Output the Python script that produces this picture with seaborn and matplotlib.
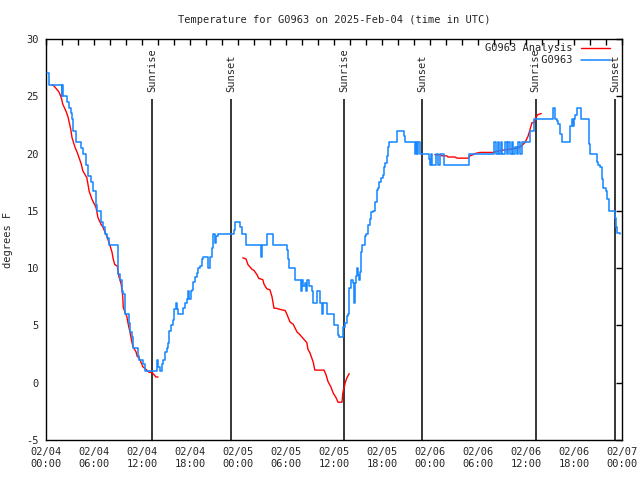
import numpy as np
import pandas as pd
import matplotlib
matplotlib.use("Agg")
import matplotlib.pyplot as plt
from matplotlib.lines import Line2D
import seaborn as sns

# ---------------- data ----------------
title = "Temperature for G0963 on 2025-Feb-04 (time in UTC)"
obs_name = "G0963"
ana_name = "G0963 Analysis"

# observations: hours since 02/04 00:00 UTC, temperature (F)
obs_hours = [0.1, 0.4, 1.9, 1.95, 2.05, 2.1, 2.4, 2.6, 2.9, 3.1, 3.2, 3.4, 3.75, 4.25, 4.4, 4.6,
             5.0, 5.25, 5.6, 5.9, 6.25, 6.4, 6.9, 7.1, 7.4, 7.6, 7.9, 8.9, 8.95, 9.25, 9.5, 9.6,
             9.9, 10.4, 10.5, 10.75, 10.9, 11.25, 11.5, 11.6, 12.1, 12.4, 13.85, 14.0, 14.25, 14.5,
             14.6, 14.9, 15.1, 15.25, 15.4, 15.6, 15.9, 16.0, 16.25, 16.4, 16.5, 17.0, 17.1, 17.4,
             17.6, 17.75, 17.9, 18.1, 18.25, 18.4, 18.6, 18.9, 19.0, 19.25, 19.5, 19.6, 20.1, 20.25,
             20.5, 20.75, 20.9, 21.1, 21.3, 21.5, 23.4, 23.5, 23.6, 24.0, 24.25, 24.5, 25.0, 26.6,
             26.9, 27.0, 27.6, 28.1, 28.4, 30.0, 30.1, 30.25, 30.4, 30.9, 31.1, 31.75, 31.9, 32.0,
             32.1, 32.4, 32.5, 32.6, 32.9, 33.25, 33.4, 33.85, 33.9, 34.1, 34.25, 34.5, 34.6, 35.0,
             35.1, 35.9, 35.95, 36.4, 36.5, 36.6, 37.0, 37.1, 37.4, 37.6, 37.75, 37.9, 38.1, 38.4,
             38.45, 38.5, 38.6, 38.75, 38.9, 39.0, 39.1, 39.25, 39.4, 39.5, 39.75, 39.9, 40.0, 40.1,
             40.25, 40.5, 40.6, 40.9, 41.1, 41.4, 41.5, 41.6, 41.9, 42.1, 42.25, 42.4, 42.6, 42.7,
             42.9, 43.75, 43.9, 44.6, 44.75, 44.9, 45.9, 46.1, 46.25, 46.4, 46.5, 46.75, 47.75, 47.9,
             48.0, 48.1, 48.25, 48.5, 48.75, 49.0, 49.25, 49.6, 49.75, 52.75, 52.9, 55.9, 56.0, 56.25,
             56.5, 56.6, 56.9, 57.0, 57.4, 57.6, 57.75, 58.0, 58.25, 58.4, 58.6, 58.9, 59.0, 59.25,
             59.5, 60.25, 60.5, 60.9, 61.0, 63.25, 63.4, 63.6, 63.9, 64.0, 64.25, 64.5, 65.4, 65.5,
             65.75, 65.9, 66.0, 66.1, 66.4, 66.6, 66.9, 67.6, 67.9, 68.0, 68.6, 68.9, 69.0, 69.25,
             69.5, 69.6, 70.0, 70.1, 70.4, 70.9, 71.1, 71.25, 71.4, 71.75]
obs_temps = [27, 26, 26, 25, 26, 25, 25, 24.5, 24, 23.5, 23, 22, 21, 21, 20.5, 20,
             19, 18, 17.5, 16.7, 15.5, 15, 14, 13.6, 13, 12.6, 12, 12, 9.5, 9, 8, 7.7,
             6, 5.2, 4.4, 4, 3, 3, 2.3, 2, 1.6, 1, 2, 1.4, 1, 1.6,
             2, 2.7, 3, 3.5, 4.5, 5, 5.5, 6.4, 7, 6.4, 6, 6, 6.5, 7,
             7.3, 8, 7.3, 8, 8.1, 8.8, 9.2, 9.6, 10, 10.2, 10.8, 11, 11, 10,
             11, 11.8, 13, 12.2, 12.8, 13, 13, 13.3, 14, 14, 13.6, 13, 12, 12,
             11, 12, 13, 13, 12, 12, 11.6, 10.8, 10, 10, 9, 9, 8, 9,
             8.4, 8.7, 8, 9, 8.4, 8, 7, 7, 8, 8, 7, 6, 7, 7,
             6, 6, 5, 5, 4.2, 4, 4, 4.9, 5.2, 5.8, 6, 8.3, 9, 8.7,
             7.3, 7, 8.7, 9.3, 10, 9.4, 9, 9.7, 11.4, 12, 12, 12.8, 13, 13,
             13.8, 14.3, 14.9, 15, 15.8, 16.8, 17, 17.5, 17.9, 18.1, 18.8, 19.2, 19.8, 20.6,
             21, 21, 22, 22, 21.5, 21, 21, 20, 21, 20, 21, 20, 20, 19.5,
             19, 20, 19, 19, 20, 19, 20, 20, 19, 19, 20, 20, 21, 20,
             21, 20, 21, 20, 21, 20, 21, 20, 21, 20, 20.6, 20, 21, 20,
             21, 21, 22, 22, 23, 23, 24, 23, 22.8, 22.6, 21.7, 21, 21, 22.4,
             23, 22.4, 23, 23.4, 24, 24, 23, 23, 20.8, 20, 20, 19.3, 19, 18.8,
             17.8, 17, 16.7, 16, 15, 15, 14.4, 13.6, 13.1, 13]

# analysis: three separate runs
ana_seg1_hours = [0.75, 1.0, 1.6, 1.9, 2.1, 2.5, 2.75, 3.1, 3.25, 3.6, 3.9, 4.1, 4.4, 4.6, 5.1,
                  5.4, 5.75, 6.25, 6.5, 6.9, 7.1, 7.6, 7.9, 8.25, 8.4, 8.6, 8.9, 9.1, 9.4, 9.6,
                  9.65, 9.9, 10.1, 10.25, 10.5, 10.75, 10.9, 11.25, 11.4, 11.6, 11.9, 12.1, 12.6,
                  12.9, 13.25, 13.5, 13.75, 14.0]
ana_seg1_temps = [26, 25.9, 25.4, 24.9, 24.3, 23.7, 23.2, 22.1, 21.4, 20.6, 20.1, 19.7, 19.1, 18.5,
                  17.9, 16.7, 16, 15.3, 14.4, 13.8, 13.6, 12.8, 12.2, 11.4, 10.8, 10.3, 10.2, 9.3,
                  8.6, 7.5, 6.6, 6.1, 5.8, 5.2, 4.4, 3.5, 3.1, 2.7, 2.3, 2.2, 1.75, 1.4, 1.1, 0.9,
                  0.9, 0.7, 0.5, 0.5]
ana_seg2_hours = [24.6, 25.0, 25.25, 25.75, 26.0, 26.4, 26.6, 27.1, 27.25, 27.6, 28.0, 28.25, 28.5,
                  28.75, 29.25, 29.9, 30.1, 30.5, 30.9, 31.4, 31.6, 32.1, 32.6, 32.75, 33.0, 33.4,
                  33.6, 34.75, 35.0, 35.25, 35.6, 35.9, 36.25, 36.5, 37.0, 37.1, 37.4, 37.6, 37.9]
ana_seg2_temps = [10.9, 10.8, 10.3, 9.9, 9.8, 9.4, 9.1, 9.0, 8.6, 8.2, 8.1, 7.5, 6.5, 6.5, 6.4,
                  6.3, 6.0, 5.3, 5.1, 4.4, 4.3, 3.9, 3.5, 2.9, 2.6, 1.8, 1.1, 1.1, 0.7, 0.1, -0.35,
                  -0.9, -1.3, -1.7, -1.7, -0.9, 0.0, 0.4, 0.8]
ana_seg3_hours = [48.6, 49.25, 49.5, 50.1, 50.25, 51.1, 51.4, 52.75, 53.0, 53.4, 53.6, 54.25, 55.9,
                  56.4, 57.1, 58.25, 59.0, 59.5, 59.9, 60.25, 60.5, 60.75, 61.0, 61.25, 61.5, 61.9]
ana_seg3_temps = [19.9, 19.9, 19.8, 19.8, 19.7, 19.7, 19.6, 19.6, 19.8, 19.9, 20.0, 20.1, 20.1,
                  20.2, 20.3, 20.4, 20.5, 20.7, 21.0, 21.5, 22.1, 22.7, 22.7, 23.2, 23.4, 23.5]

# sun events (hours since 02/04 00:00 UTC)
event_names = ["Sunrise", "Sunset", "Sunrise", "Sunset", "Sunrise", "Sunset"]
event_hours = [13.3, 23.1, 37.3, 47.0, 61.2, 71.1]

xtick_hours = [0, 6, 12, 18, 24, 30, 36, 42, 48, 54, 60, 66, 72]
xtick_labels = ["02/04\n00:00", "02/04\n06:00", "02/04\n12:00", "02/04\n18:00",
                "02/05\n00:00", "02/05\n06:00", "02/05\n12:00", "02/05\n18:00",
                "02/06\n00:00", "02/06\n06:00", "02/06\n12:00", "02/06\n18:00",
                "02/07\n00:00"]
ytick_values = [-5, 0, 5, 10, 15, 20, 25, 30]
ylabel = "degrees F"

# ---------------- style ----------------
sns.set_style("white")
plt.rcParams["font.family"] = ["DejaVu Sans Mono"]
plt.rcParams["font.size"] = 7.5

RED = "#ff0000"
BLUE = "#1a88ff"

obs_df = pd.DataFrame({"hour": obs_hours, "temp": obs_temps})
ana_df = pd.concat([
    pd.DataFrame({"hour": ana_seg1_hours, "temp": ana_seg1_temps, "seg": 1}),
    pd.DataFrame({"hour": ana_seg2_hours, "temp": ana_seg2_temps, "seg": 2}),
    pd.DataFrame({"hour": ana_seg3_hours, "temp": ana_seg3_temps, "seg": 3}),
], ignore_index=True)

fig = plt.figure(figsize=(6.4, 4.8), dpi=100)
ax = fig.add_axes([46 / 640, 40 / 480, (622 - 46) / 640, (440.5 - 39.5) / 480])

ax.vlines(event_hours, -5, 24.8, color="black", lw=1.1, zorder=1)
for h, name in zip(event_hours, event_names):
    ax.text(h, 25.4, name, rotation=90, ha="center", va="bottom", fontsize=7.5)

sns.lineplot(data=ana_df, x="hour", y="temp", units="seg", estimator=None,
             color=RED, lw=1.0, ax=ax, zorder=2)
sns.lineplot(data=obs_df, x="hour", y="temp", estimator=None, drawstyle="steps-post",
             color=BLUE, lw=1.15, ax=ax, zorder=3)

ax.set_xlim(0, 72)
ax.set_ylim(-5, 30)
ax.set_xticks(xtick_hours)
ax.set_xticklabels(xtick_labels)
ax.set_xticks([h for h in range(0, 73, 2) if h % 6 != 0], minor=True)
ax.set_yticks(ytick_values)
ax.set_yticklabels([str(v) for v in ytick_values])
ax.tick_params(axis="both", which="both", direction="in", top=True, right=True,
               length=4, width=1, color="black", labelsize=7.5, pad=5)
ax.tick_params(axis="y", pad=5)
for s in ax.spines.values():
    s.set_color("black")
    s.set_linewidth(1)

ax.set_xlabel("")
ax.set_ylabel(ylabel, fontsize=7.5, labelpad=10)
ax.set_title(title, fontsize=7.5, pad=11.5)

width = max(len(ana_name), len(obs_name))
handles = [Line2D([], [], color=RED, lw=1.0), Line2D([], [], color=BLUE, lw=1.15)]
labels = [ana_name.rjust(width), obs_name.rjust(width)]
ax.legend(handles, labels, loc="upper right", bbox_to_anchor=(0.979, 0.989),
          frameon=False, markerfirst=False, borderaxespad=0, borderpad=0,
          handlelength=2.8, handletextpad=0.8, labelspacing=0.2, fontsize=7.5)

fig.savefig("out.png", dpi=100)
